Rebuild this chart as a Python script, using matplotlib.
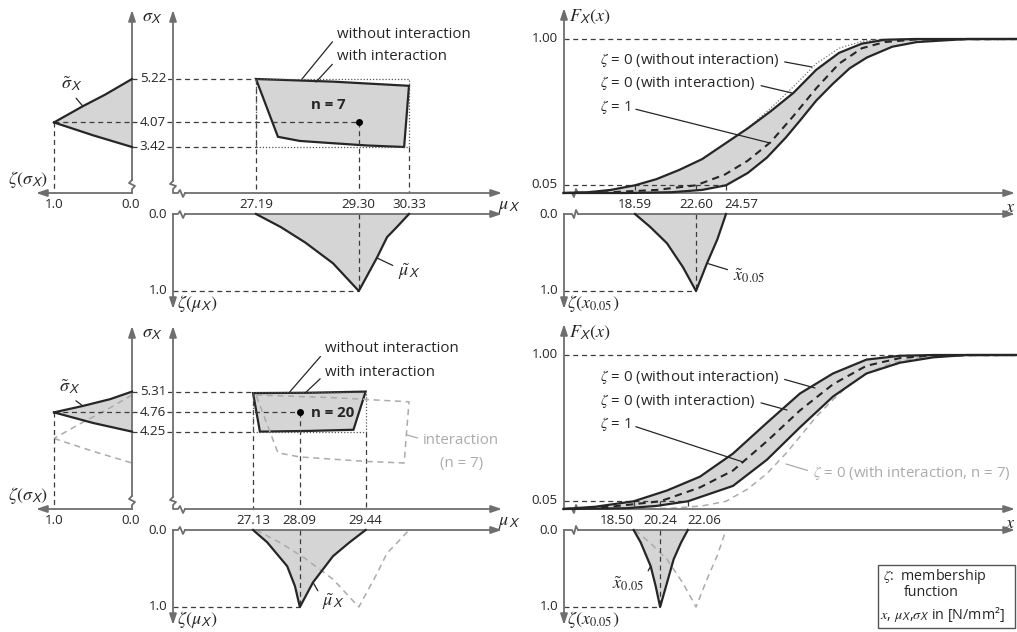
import numpy as np
import matplotlib.pyplot as plt
from matplotlib.patches import Rectangle

plt.rcParams['font.family'] = ['Open Sans', 'DejaVu Sans']
plt.rcParams['mathtext.fontset'] = 'stix'
plt.rcParams['font.size'] = 10.8
plt.rcParams['text.color'] = '#262626'

W, H = 1017, 632
ROW2 = 316   # second row is the same layout shifted down

AXC = '#6e6e6e'
LNC = '#262626'
FILLC = '#d5d5d5'
DSC = '#3c3c3c'
GRC = '#ababab'
TICK = 9.6
SYM = 13

# ---------------- row 1 : n = 7 ----------------
sig_ticks_a = [5.22, 4.07, 3.42]      # upper, centre, lower
mu_ticks_a = [27.19, 29.30, 30.33]    # lower, centre, upper
x_ticks_a = [18.59, 22.60, 24.57]

zs_up_a = [0.0, 0.35, 0.63, 1.0]
sig_up_a = [5.22, 4.80, 4.50, 4.07]
zs_lo_a = [1.0, 0.5, 0.0]
sig_lo_a = [4.07, 3.73, 3.42]

poly_mu_a = [27.19, 28.77, 30.33, 30.23, 29.47, 28.77, 28.09, 27.64]
poly_sig_a = [5.22, 5.15, 5.04, 3.42, 3.46, 3.52, 3.58, 3.69]

mu_m_a = [27.19, 27.7, 28.2, 28.77, 29.30, 29.67, 29.88, 30.08, 30.33]
zm_mu_a = [0.0, 0.17, 0.37, 0.64, 1.0, 0.57, 0.30, 0.17, 0.0]

xq_m_a = [18.59, 19.6, 20.69, 21.74, 22.60, 23.32, 24.0, 24.57]
zm_xq_a = [0.0, 0.17, 0.38, 0.69, 1.0, 0.64, 0.33, 0.0]

cdf_left_x_a = [13.9, 15.5, 17.0, 18.59, 20.0, 21.5, 23.0, 24.5, 26.0, 27.5, 29.0, 30.5, 32.0, 33.5, 35.0, 37.0, 43.7]
cdf_left_F_a = [0.0, 0.005, 0.02, 0.05, 0.09, 0.15, 0.22, 0.32, 0.42, 0.53, 0.65, 0.80, 0.91, 0.97, 0.995, 1.0, 1.0]
cdf_mid_x_a = [13.9, 17.0, 20.0, 22.6, 24.5, 26.0, 27.5, 29.0, 30.5, 32.0, 33.5, 35.0, 37.0, 43.7]
cdf_mid_F_a = [0.0, 0.005, 0.02, 0.05, 0.12, 0.21, 0.33, 0.50, 0.68, 0.84, 0.94, 0.98, 0.997, 1.0]
cdf_right_x_a = [13.9, 18.0, 21.0, 23.0, 24.57, 26.0, 27.26, 28.5, 29.43, 30.5, 31.6, 32.7, 33.83, 35.5, 37.1, 40.4, 43.7]
cdf_right_F_a = [0.0, 0.0, 0.005, 0.02, 0.05, 0.13, 0.23, 0.36, 0.47, 0.60, 0.71, 0.81, 0.88, 0.95, 0.98, 1.0, 1.0]
cdf_free_x_a = [26.0, 27.5, 29.0, 30.5, 32.0, 33.5, 35.0]
cdf_free_F_a = [0.42, 0.55, 0.69, 0.84, 0.94, 0.985, 1.0]

# ---------------- row 2 : n = 20 ----------------
sig_ticks_b = [5.31, 4.76, 4.25]
mu_ticks_b = [27.13, 28.09, 29.44]
x_ticks_b = [18.50, 20.24, 22.06]

zs_up_b = [0.0, 0.28, 0.63, 1.0]
sig_up_b = [5.31, 5.11, 4.93, 4.76]
zs_lo_b = [1.0, 0.5, 0.0]
sig_lo_b = [4.76, 4.48, 4.25]

poly_mu_b = [27.13, 28.3, 29.44, 29.19, 28.3, 27.27]
poly_sig_b = [5.27, 5.28, 5.31, 4.30, 4.27, 4.25]

mu_m_b = [27.13, 27.42, 27.83, 27.99, 28.09, 28.36, 28.77, 29.11, 29.44]
zm_mu_b = [0.0, 0.16, 0.47, 0.73, 1.0, 0.68, 0.34, 0.16, 0.0]

xq_m_b = [18.50, 18.96, 19.62, 19.95, 20.24, 20.63, 21.13, 21.6, 22.06]
zm_xq_b = [0.0, 0.16, 0.47, 0.73, 1.0, 0.73, 0.38, 0.17, 0.0]

cdf_left_x_b = [13.9, 16.0, 18.5, 20.69, 22.86, 25.03, 27.26, 29.43, 31.6, 33.8, 36.0, 38.2, 43.7]
cdf_left_F_b = [0.0, 0.015, 0.05, 0.12, 0.21, 0.36, 0.56, 0.75, 0.88, 0.97, 0.995, 1.0, 1.0]
cdf_mid_x_b = [13.9, 17.0, 20.24, 22.86, 25.03, 27.26, 29.43, 31.6, 33.8, 36.0, 38.2, 43.7]
cdf_mid_F_b = [0.0, 0.015, 0.05, 0.14, 0.25, 0.44, 0.64, 0.81, 0.93, 0.98, 0.998, 1.0]
cdf_right_x_b = [13.9, 18.0, 20.0, 22.06, 25.03, 27.26, 29.43, 31.6, 33.8, 36.0, 38.2, 40.4, 43.7]
cdf_right_F_b = [0.0, 0.005, 0.02, 0.05, 0.15, 0.32, 0.53, 0.73, 0.88, 0.95, 0.985, 1.0, 1.0]


def lin(pa, va, pb, vb):
    k = (vb - va) / (pb - pa)
    return lambda p: va + (p - pa) * k

# pixel -> value scales (pixel y measured inside one row)
mu_px = lin(256, 27.19, 409, 30.33)
sig_px = lin(79, 5.22, 147, 3.42)
zs_px = lin(132, 0.0, 54, 1.0)
zm_px = lin(214, 0.0, 291, 1.0)
x_px = lin(635, 18.59, 726, 24.57)
F_px = lin(193, 0.0, 39, 1.0)

fig = plt.figure(figsize=(W / 100, H / 100), dpi=100)


def make_ax(x0, x1, fx, fy, dy):
    ax = fig.add_axes([x0 / W, 1 - (316 + dy) / H, (x1 - x0) / W, 316 / H])
    ax.set_xlim(fx(x0), fx(x1))
    ax.set_ylim(fy(316), fy(0))
    ax.axis('off')
    ax.fx, ax.fy = fx, fy
    return ax


def pline(ax, pts):
    ax.plot([ax.fx(p[0]) for p in pts], [ax.fy(p[1]) for p in pts],
            color=AXC, lw=1.3, clip_on=False)


def parrow(ax, p0, p1):
    ax.annotate('', xy=(ax.fx(p1[0]), ax.fy(p1[1])), xytext=(ax.fx(p0[0]), ax.fy(p0[1])),
                arrowprops=dict(arrowstyle='-|>,head_length=0.6,head_width=0.2',
                                color=AXC, lw=1.3, shrinkA=0, shrinkB=0),
                annotation_clip=False)


def ptext(ax, xp, yp, s, **kw):
    ax.text(ax.fx(xp), ax.fy(yp), s, clip_on=False, **kw)


def lab(ax, xp, yp, s, xy, relpos, color=LNC, ha='left', **kw):
    # text with a thin leader line to a point of the drawing
    ax.annotate(s, xy=xy, xytext=(ax.fx(xp), ax.fy(yp)), ha=ha, va='center',
                color=color if color != LNC else '#262626',
                arrowprops=dict(arrowstyle='-', color=color, lw=0.9, shrinkA=2, shrinkB=0,
                                relpos=relpos),
                annotation_clip=False, **kw)


def guide(ax, xs, ys, color=DSC, ls=(0, (4, 3)), lw=0.9):
    ax.plot(xs, ys, color=color, lw=lw, ls=ls, clip_on=False, zorder=2)


WHITE = dict(boxstyle='square,pad=0.1', fc='white', ec='none')


def draw_row(dy, d, ref=None):
    ax_s = make_ax(0, 140, zs_px, sig_px, dy)
    ax_ms = make_ax(130, 520, mu_px, sig_px, dy)
    ax_m = make_ax(130, 520, mu_px, zm_px, dy)
    ax_F = make_ax(520, 1017, x_px, F_px, dy)
    ax_q = make_ax(520, 1017, x_px, zm_px, dy)

    # axes with arrows and breaks
    parrow(ax_s, (132, 193), (36, 193))
    pline(ax_s, [(132, 193), (132, 189), (135, 186), (129, 183), (132, 180)])
    parrow(ax_s, (132, 180), (132, 10))
    parrow(ax_ms, (173, 181), (173, 10))
    pline(ax_ms, [(173, 181), (170, 184), (176, 186), (173, 189), (173, 193),
                  (178, 193), (180, 190), (183, 197), (185, 193)])
    parrow(ax_ms, (185, 193), (502, 193))
    pline(ax_m, [(173, 214), (178, 214), (180, 211), (183, 218), (185, 214)])
    parrow(ax_m, (185, 214), (502, 214))
    parrow(ax_m, (173, 214), (173, 309))
    parrow(ax_F, (564, 193), (564, 8))
    pline(ax_F, [(564, 193), (572, 193), (574, 197), (576, 189), (578, 193)])
    parrow(ax_F, (578, 193), (1015, 193))
    pline(ax_q, [(564, 214), (572, 214), (574, 218), (576, 210), (578, 214)])
    parrow(ax_q, (578, 214), (1015, 214))
    parrow(ax_q, (564, 214), (564, 309))

    s_hi, s_mid, s_lo = d['sig_ticks']
    m_lo, m_mid, m_hi = d['mu_ticks']
    q_lo, q_mid, q_hi = d['x_ticks']
    s_axis = sig_px(193)

    # --- sigma membership ---
    ax_s.fill(d['zs_up'] + d['zs_lo'], d['sig_up'] + d['sig_lo'], fc=FILLC, ec='none', zorder=1, clip_on=False)
    if ref:
        guide(ax_s, ref['zs_up'], ref['sig_up'], color=GRC, lw=1.1)
        guide(ax_s, ref['zs_lo'], ref['sig_lo'], color=GRC, lw=1.1)
    ax_s.plot(d['zs_up'], d['sig_up'], color=LNC, lw=1.6, clip_on=False, zorder=3)
    ax_s.plot(d['zs_lo'], d['sig_lo'], color=LNC, lw=1.6, clip_on=False, zorder=3)
    guide(ax_s, [1, 0], [s_mid, s_mid])
    guide(ax_s, [1, 1], [s_mid, s_axis])
    ptext(ax_s, 54, 204, '1.0', ha='center', va='center', fontsize=TICK)
    ptext(ax_s, 131, 204, '0.0', ha='center', va='center', fontsize=TICK)
    ptext(ax_s, 28, 179, r'$\zeta(\sigma_{\mathsf{X}})$', ha='center', va='center', fontsize=SYM)
    lab(ax_s, d['sl_lab'][0], d['sl_lab'][1], r'$\tilde{\sigma}_{\mathsf{X}}$',
        (d['zs_up'][2], d['sig_up'][2]), (0.5, 0.0), ha='center', fontsize=SYM)

    # --- mu / sigma region ---
    x132 = mu_px(132)
    guide(ax_ms, [x132, m_lo], [s_hi, s_hi])
    guide(ax_ms, [x132, m_mid], [s_mid, s_mid])
    guide(ax_ms, [x132, m_lo], [s_lo, s_lo])
    guide(ax_ms, [m_lo, m_lo], [s_hi, s_axis])
    guide(ax_ms, [m_mid, m_mid], [s_mid, s_axis])
    guide(ax_ms, [m_hi, m_hi], [s_lo, s_axis])
    ax_ms.add_patch(Rectangle((m_lo, s_lo), m_hi - m_lo, s_hi - s_lo, fill=False,
                              ec='#555555', lw=0.9, ls=(0, (1, 1.5)), zorder=2, clip_on=False))
    ax_ms.fill(d['poly_mu'], d['poly_sig'], fc=FILLC, ec=LNC, lw=1.6, zorder=1.5, clip_on=False)
    if ref:
        guide(ax_ms, ref['poly_mu'] + ref['poly_mu'][:1], ref['poly_sig'] + ref['poly_sig'][:1],
              color=GRC, lw=1.1)
    ax_ms.plot([m_mid], [s_mid], 'o', color='black', ms=4, zorder=4, clip_on=False)
    for s in d['sig_ticks']:
        ax_ms.text(mu_px(153), s, f'{s:.2f}', ha='center', va='center', bbox=WHITE, zorder=5,
                   fontsize=TICK)
    for m in d['mu_ticks']:
        ax_ms.text(m, sig_px(204), f'{m:.2f}', ha='center', va='center', zorder=5, fontsize=TICK)
    ptext(ax_ms, 153, 17, r'$\sigma_{\mathsf{X}}$', ha='center', va='center', fontsize=SYM)
    ptext(ax_ms, 498, 206, r'$\mu_{\mathsf{X}}$', ha='left', va='center', fontsize=SYM)
    ax0, ay0, t1, t2 = d['ann']
    lab(ax_ms, ax0, ay0, 'without interaction', (mu_px(t1), s_hi), (0.0, 0.35))
    lab(ax_ms, ax0, ay0 + 23, 'with interaction', (mu_px(t2), d['poly_sig'][1] - 0.01), (0.0, 0.35))
    ptext(ax_ms, d['n_lab'][0], d['n_lab'][1], d['n_text'], ha='center', va='center', fontweight='bold')

    # --- mu membership ---
    ax_m.fill(d['mu_m'], d['zm_mu'], fc=FILLC, ec='none', zorder=1, clip_on=False)
    if ref:
        guide(ax_m, ref['mu_m'], ref['zm_mu'], color=GRC, lw=1.1)
    ax_m.plot(d['mu_m'], d['zm_mu'], color=LNC, lw=1.6, clip_on=False, zorder=3)
    guide(ax_m, [m_mid, m_mid], [0, 1])
    guide(ax_m, [mu_px(173), m_mid], [1, 1])
    ptext(ax_m, 167, 214, '0.0', ha='right', va='center', fontsize=TICK)
    ptext(ax_m, 167, 291, '1.0', ha='right', va='center', fontsize=TICK)
    ptext(ax_m, 177, 304, r'$\zeta(\mu_{\mathsf{X}})$', ha='left', va='center', fontsize=SYM)
    lab(ax_m, d['mu_lab'][0], d['mu_lab'][1], r'$\tilde{\mu}_{\mathsf{X}}$',
        (d['mu_m'][5], d['zm_mu'][5]), (0.0, 0.7), fontsize=SYM)

    # --- CDF ---
    guide(ax_F, [x_px(564), x_px(1015)], [1, 1])
    guide(ax_F, [x_px(564), q_hi], [0.05, 0.05])
    for q, p in zip(d['x_ticks'], d['x_lab_px']):
        guide(ax_F, [q, q], [0.05, 0])
        ax_F.text(x_px(p), F_px(204), f'{q:.2f}', ha='center', va='center', fontsize=TICK)
    band_x = d['cdf_left_x'] + d['cdf_right_x'][::-1]
    band_F = d['cdf_left_F'] + d['cdf_right_F'][::-1]
    ax_F.fill(band_x, band_F, fc=FILLC, ec='none', zorder=1, clip_on=False)
    if ref:
        guide(ax_F, ref['cdf_right_x'], ref['cdf_right_F'], color=GRC, lw=1.1)
    if 'cdf_free_x' in d:
        ax_F.plot(d['cdf_free_x'], d['cdf_free_F'], color='#777777', lw=0.9, ls=(0, (1, 1.5)), zorder=2)
    ax_F.plot(d['cdf_left_x'], d['cdf_left_F'], color=LNC, lw=1.6, zorder=3, clip_on=False)
    ax_F.plot(d['cdf_right_x'], d['cdf_right_F'], color=LNC, lw=1.6, zorder=3, clip_on=False)
    ax_F.plot(d['cdf_mid_x'], d['cdf_mid_F'], color=LNC, lw=1.5, ls=(0, (3.5, 2.5)), zorder=3, clip_on=False)
    ptext(ax_F, 558, 39, '1.00', ha='right', va='center', fontsize=TICK)
    ptext(ax_F, 558, 185, '0.05', ha='right', va='center', fontsize=TICK)
    ptext(ax_F, 569, 17, r'$F_{\mathsf{X}}(x)$', ha='left', va='center', fontsize=SYM)
    ptext(ax_F, 1016, 207, r'$x$', ha='right', va='center', fontsize=SYM)
    ty = d['cdf_lab_y']
    texts = [r'$\zeta$ = 0 (without interaction)', r'$\zeta$ = 0 (with interaction)', r'$\zeta$ = 1']
    for k, (s, tgt) in enumerate(zip(texts, d['cdf_leads'])):
        lab(ax_F, 600, ty + 23.5 * k, s, (x_px(tgt[0]), F_px(tgt[1])), (1.0, 0.45))

    # --- quantile membership ---
    ax_q.fill(d['xq_m'], d['zm_xq'], fc=FILLC, ec='none', zorder=1, clip_on=False)
    if ref:
        guide(ax_q, ref['xq_m'], ref['zm_xq'], color=GRC, lw=1.1)
    ax_q.plot(d['xq_m'], d['zm_xq'], color=LNC, lw=1.6, clip_on=False, zorder=3)
    guide(ax_q, [q_mid, q_mid], [0, 1])
    guide(ax_q, [x_px(564), q_mid], [1, 1])
    ptext(ax_q, 558, 214, '0.0', ha='right', va='center', fontsize=TICK)
    ptext(ax_q, 558, 291, '1.0', ha='right', va='center', fontsize=TICK)
    ptext(ax_q, 567, 304, r'$\zeta(x_{0.05})$', ha='left', va='center', fontsize=SYM)
    qx, qy, qi, qrel = d['q_lab']
    lab(ax_q, qx, qy, r'$\tilde{x}_{0.05}$', (d['xq_m'][qi], d['zm_xq'][qi]), qrel, fontsize=SYM)

    if ref:
        lab(ax_ms, 423, 125, 'interaction', (mu_px(407), sig_px(119)), (0.0, 0.6), color=GRC)
        ptext(ax_ms, 462, 147, '(n = 7)', ha='center', va='center', color=GRC)
        lab(ax_F, 813, 157, r'$\zeta$ = 0 (with interaction, n = 7)', (x_px(786), F_px(148)),
            (0.0, 0.55), color=GRC)


row_a = dict(sig_ticks=sig_ticks_a, mu_ticks=mu_ticks_a, x_ticks=x_ticks_a,
             zs_up=zs_up_a, sig_up=sig_up_a, zs_lo=zs_lo_a, sig_lo=sig_lo_a,
             poly_mu=poly_mu_a, poly_sig=poly_sig_a, mu_m=mu_m_a, zm_mu=zm_mu_a,
             xq_m=xq_m_a, zm_xq=zm_xq_a,
             cdf_left_x=cdf_left_x_a, cdf_left_F=cdf_left_F_a,
             cdf_mid_x=cdf_mid_x_a, cdf_mid_F=cdf_mid_F_a,
             cdf_right_x=cdf_right_x_a, cdf_right_F=cdf_right_F_a,
             cdf_free_x=cdf_free_x_a, cdf_free_F=cdf_free_F_a,
             x_lab_px=[635, 696, 741],
             sl_lab=(72, 84), ann=(337, 34, 302, 316), n_lab=(328, 105), n_text='n = 7',
             mu_lab=(398, 272), cdf_lab_y=60,
             cdf_leads=[(812, 67), (792, 93), (770, 143)],
             q_lab=(733, 276, 5, (0.0, 0.75)))

row_b = dict(sig_ticks=sig_ticks_b, mu_ticks=mu_ticks_b, x_ticks=x_ticks_b,
             zs_up=zs_up_b, sig_up=sig_up_b, zs_lo=zs_lo_b, sig_lo=sig_lo_b,
             poly_mu=poly_mu_b, poly_sig=poly_sig_b, mu_m=mu_m_b, zm_mu=zm_mu_b,
             xq_m=xq_m_b, zm_xq=zm_xq_b,
             cdf_left_x=cdf_left_x_b, cdf_left_F=cdf_left_F_b,
             cdf_mid_x=cdf_mid_x_b, cdf_mid_F=cdf_mid_F_b,
             cdf_right_x=cdf_right_x_b, cdf_right_F=cdf_right_F_b,
             x_lab_px=[617, 660, 704],
             sl_lab=(70, 71), ann=(325, 33, 290, 305), n_lab=(333, 97), n_text='n = 20',
             mu_lab=(322, 286), cdf_lab_y=61,
             cdf_leads=[(815, 72), (787, 94), (743, 146)],
             q_lab=(612, 268, 2, (1.0, 0.8)))

draw_row(0, row_a)
draw_row(ROW2, row_b, ref=row_a)

# note box
fig.patches.append(Rectangle((878 / W, 1 - 628 / H), 137 / W, 63 / H, transform=fig.transFigure,
                             fill=False, ec='#555555', lw=1.0))
fig.text(883 / W, 1 - 577 / H, r'$\zeta$:  membership', ha='left', va='center', fontsize=10.3)
fig.text(904 / W, 1 - 592 / H, 'function', ha='left', va='center', fontsize=10.3)
fig.text(880 / W, 1 - 614 / H, r'$x$, $\mu_{\mathsf{X}}$,$\sigma_{\mathsf{X}}$ in [N/mm²]',
         ha='left', va='center', fontsize=10.3)

fig.savefig('out.png', dpi=100)
